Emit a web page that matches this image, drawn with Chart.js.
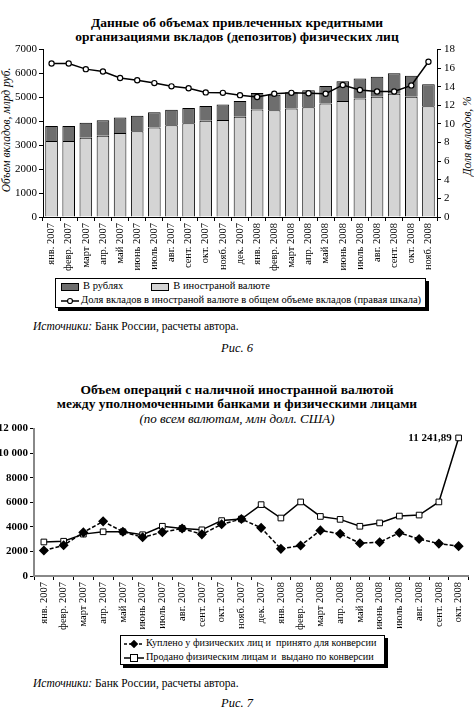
<!DOCTYPE html>
<html>
<head>
<meta charset="utf-8">
<script src="https://cdn.jsdelivr.net/npm/chart.js@4/dist/chart.umd.min.js"></script>
<style>
  body { margin: 0; background: #fff; font-family: "Liberation Serif", serif; color: #000; }
  #page { position: relative; width: 474px; height: 712px; overflow: hidden; }
  .abs { position: absolute; }
  .title { left: 0; width: 474px; text-align: center; font-weight: bold; font-size: 13.5px; line-height: 14px; }
  .sub { left: 0; width: 474px; text-align: center; font-style: italic; font-size: 13px; }
  .src { font-size: 11.5px; }
  .fig { left: 0; width: 474px; text-align: center; font-style: italic; font-size: 12.5px; }
  .vtitle { font-style: italic; font-size: 11.5px; white-space: nowrap; transform: translate(-50%, -50%) rotate(-90deg); }
  .legend { border: 1px solid #000; background: #fff; box-shadow: 3px 3px 0 #000; font-size: 10.5px; line-height: 14px; white-space: nowrap; }
  .sw { display: inline-block; width: 16px; height: 6px; border: 1px solid #000; vertical-align: middle; margin-right: 4px; }
  canvas { position: absolute; }
</style>
</head>
<body>
<div id="page">
  <div class="abs title" style="top:16px">Данные об объемах привлеченных кредитными<br>организациями вкладов (депозитов) физических лиц</div>
  <div class="abs vtitle" style="left:6px; top:130px">Объем вкладов, млрд руб.</div>
  <div class="abs vtitle" style="left:467px; top:136px">Доля вкладов, %</div>
  <div style="position:absolute; left:0; top:40px; width:474px; height:235px"><canvas id="chart1"></canvas></div>
  <div class="abs legend" style="left:55px; top:278px; width:364px; height:28px; padding:0 0 0 5px">
    <div><span class="sw" style="background:#6e6e6e"></span>В рублях<span style="display:inline-block;width:28px"></span><span class="sw" style="background:#d4d4d4"></span>В иностраной валюте</div>
    <div><svg width="18" height="8" style="vertical-align:middle;margin-right:2px"><line x1="0" y1="4" x2="18" y2="4" stroke="#000" stroke-width="1.5"/><circle cx="9" cy="4" r="2.5" fill="#fff" stroke="#000" stroke-width="1.2"/></svg>Доля вкладов в иностраной валюте в общем объеме вкладов (правая шкала)</div>
  </div>
  <div class="abs src" style="left:33px; top:320px"><i>Источники:</i> Банк России, расчеты автора.</div>
  <div class="abs fig" style="top:341px">Рис. 6</div>

  <div class="abs title" style="top:383px">Объем операций с наличной иностранной валютой<br>между уполномоченными банками и физическими лицами</div>
  <div class="abs sub" style="top:411px">(по всем валютам, млн долл. США)</div>
  <div style="position:absolute; left:0; top:420px; width:474px; height:210px"><canvas id="chart2"></canvas></div>
  <div class="abs legend" style="left:120px; top:635px; width:260px; height:28px; padding:0 0 0 3px; font-size:10.2px">
    <div><svg width="20" height="8" style="vertical-align:middle;margin-right:2px"><line x1="0" y1="4" x2="20" y2="4" stroke="#000" stroke-width="1.5" stroke-dasharray="3,2"/><rect x="7" y="1" width="6" height="6" fill="#000" transform="rotate(45 10 4)"/></svg>Куплено у физических лиц и&nbsp; принято для конверсии</div>
    <div><svg width="20" height="8" style="vertical-align:middle;margin-right:2px"><line x1="0" y1="4" x2="20" y2="4" stroke="#000" stroke-width="1.5"/><rect x="6.5" y="0.5" width="7" height="7" fill="#fff" stroke="#000" stroke-width="1"/></svg>Продано физическим лицам и&nbsp; выдано по конверсии</div>
  </div>
  <div class="abs src" style="left:33px; top:677px"><i>Источники:</i> Банк России, расчеты автора.</div>
  <div class="abs fig" style="top:696px">Рис. 7</div>
</div>

<script>
// Рис. 6 — вклады физических лиц
var months1 = ["янв. 2007", "февр. 2007", "март 2007", "апр. 2007", "май 2007", "июнь 2007",
  "июль 2007", "авг. 2007", "сент. 2007", "окт. 2007", "нояб. 2007", "дек. 2007",
  "янв. 2008", "февр. 2008", "март 2008", "апр. 2008", "май 2008", "июнь 2008",
  "июль 2008", "авг. 2008", "сент. 2008", "окт. 2008", "нояб. 2008"];
var foreignDeposits = [3180, 3180, 3310, 3400, 3510, 3590, 3740, 3840, 3920, 4020, 4060, 4190,
  4500, 4460, 4540, 4590, 4750, 4850, 4950, 5030, 5150, 5030, 4630];
var rubleDeposits = [630, 630, 630, 650, 650, 640, 640, 640, 640, 620, 640, 660,
  680, 650, 680, 710, 730, 830, 840, 830, 860, 880, 920];
var foreignShare = [16.5, 16.5, 15.9, 15.65, 14.95, 14.7, 14.4, 14.05, 13.85, 13.4, 13.35, 13.1,
  12.9, 13.25, 13.35, 13.3, 13.25, 14.2, 13.65, 13.5, 13.5, 14.15, 16.7];

// Рис. 7 — операции с наличной валютой
var months2 = months1.slice(0, 22);
var boughtFx = [2080, 2500, 3550, 4450, 3600, 3150, 3570, 3870, 3390, 4210, 4640, 3920,
  2210, 2480, 3710, 3440, 2670, 2750, 3520, 3010, 2640, 2430];
var soldFx = [2770, 2830, 3410, 3600, 3600, 3360, 4050, 3870, 3760, 4510, 4640, 5810,
  4720, 6030, 4850, 4610, 4050, 4320, 4880, 4960, 6030, 11241.89];
var lastLabel = "11 241,89";
var yTicks2 = { 0: "0", 2000: "2000", 4000: "4000", 6000: "6000", 8000: "8000", 10000: "10 000", 12000: "12 000" };

Chart.defaults.font.family = "Liberation Serif";
Chart.defaults.font.size = 11;
Chart.defaults.color = "#000";

function axisGrid(color) {
  return { display: true, drawOnChartArea: false, drawTicks: true, tickLength: 4, color: color };
}

var ctx1 = document.getElementById("chart1").getContext("2d");
var chart1 = new Chart(ctx1, {
  type: "bar",
  data: {
    labels: months1,
    datasets: [
      {
        type: "line",
        label: "Доля",
        data: foreignShare,
        yAxisID: "y1",
        borderColor: "#000",
        borderWidth: 1.5,
        pointRadius: 2.6,
        pointBackgroundColor: "#fff",
        pointBorderColor: "#000",
        pointBorderWidth: 1.2,
        tension: 0,
        order: 0,
      },
      {
        label: "В иностраной валюте",
        data: foreignDeposits,
        backgroundColor: "#d4d4d4",
        borderColor: "#000",
        borderWidth: 1,
        barPercentage: 0.8,
        categoryPercentage: 0.92,
        order: 1,
      },
      {
        label: "В рублях",
        data: rubleDeposits,
        backgroundColor: "#6e6e6e",
        borderColor: "#000",
        borderWidth: 1,
        barPercentage: 0.8,
        categoryPercentage: 0.92,
        order: 1,
      },
    ],
  },
  options: {
    responsive: true,
    maintainAspectRatio: false,
    animation: false,
    layout: { padding: { top: 8, left: 0, right: 0, bottom: 0 } },
    plugins: { legend: { display: false }, tooltip: { enabled: false } },
    scales: {
      x: {
        stacked: true,
        grid: Object.assign(axisGrid("#000"), { offset: true }),
        border: { color: "#000", width: 1 },
        ticks: { autoSkip: false, minRotation: 90, maxRotation: 90, padding: 2, font: { size: 10.5 } },
        afterFit: function (s) { s.height = 58; },
      },
      y: {
        stacked: true,
        min: 0,
        max: 7000,
        grid: axisGrid("#000"),
        border: { color: "#000", width: 1 },
        ticks: { stepSize: 1000, padding: 2, font: { size: 11 }, callback: function (v) { return String(v); } },
        afterFit: function (s) { s.width = 43; },
      },
      y1: {
        position: "right",
        min: 0,
        max: 18,
        grid: axisGrid("#000"),
        border: { color: "#000", width: 1 },
        ticks: { stepSize: 2, padding: 3, font: { size: 11 } },
        afterFit: function (s) { s.width = 37; },
      },
    },
  },
});

// подпись последней точки
var lastValueLabel = {
  id: "lastValueLabel",
  afterDatasetsDraw: function (chart) {
    var meta = chart.getDatasetMeta(1);
    var pt = meta.data[meta.data.length - 1];
    var c = chart.ctx;
    c.save();
    c.font = "bold 11px 'Liberation Serif'";
    c.fillStyle = "#000";
    c.textAlign = "right";
    c.textBaseline = "middle";
    c.fillText(lastLabel, pt.x - 7, pt.y);
    c.restore();
  },
};

var ctx2 = document.getElementById("chart2").getContext("2d");
var chart2 = new Chart(ctx2, {
  type: "line",
  data: {
    labels: months2,
    datasets: [
      {
        label: "Куплено у физических лиц и  принято для конверсии",
        data: boughtFx,
        borderColor: "#000",
        borderWidth: 1.5,
        borderDash: [4, 2],
        pointStyle: "rectRot",
        pointRadius: 4,
        pointBackgroundColor: "#000",
        pointBorderColor: "#000",
        tension: 0,
      },
      {
        label: "Продано физическим лицам и  выдано по конверсии",
        data: soldFx,
        borderColor: "#000",
        borderWidth: 1.5,
        pointStyle: "rect",
        pointRadius: 4,
        pointBackgroundColor: "#fff",
        pointBorderColor: "#000",
        pointBorderWidth: 1,
        tension: 0,
      },
    ],
  },
  options: {
    responsive: true,
    maintainAspectRatio: false,
    animation: false,
    layout: { padding: { top: 7, left: 0, right: 3, bottom: 0 } },
    plugins: { legend: { display: false }, tooltip: { enabled: false } },
    scales: {
      x: {
        offset: true,
        grid: Object.assign(axisGrid("#000"), { offset: true }),
        border: { color: "#888", width: 2 },
        ticks: { autoSkip: false, minRotation: 90, maxRotation: 90, padding: 2, font: { size: 10.5 } },
        afterFit: function (s) { s.height = 54; },
      },
      y: {
        min: 0,
        max: 12000,
        grid: axisGrid("#000"),
        border: { color: "#888", width: 2 },
        ticks: {
          stepSize: 2000,
          padding: 2,
          font: { size: 11, weight: "bold" },
          callback: function (v) { return yTicks2[v]; },
        },
        afterFit: function (s) { s.width = 34; },
      },
    },
  },
  plugins: [lastValueLabel],
});
</script>
</body>
</html>
